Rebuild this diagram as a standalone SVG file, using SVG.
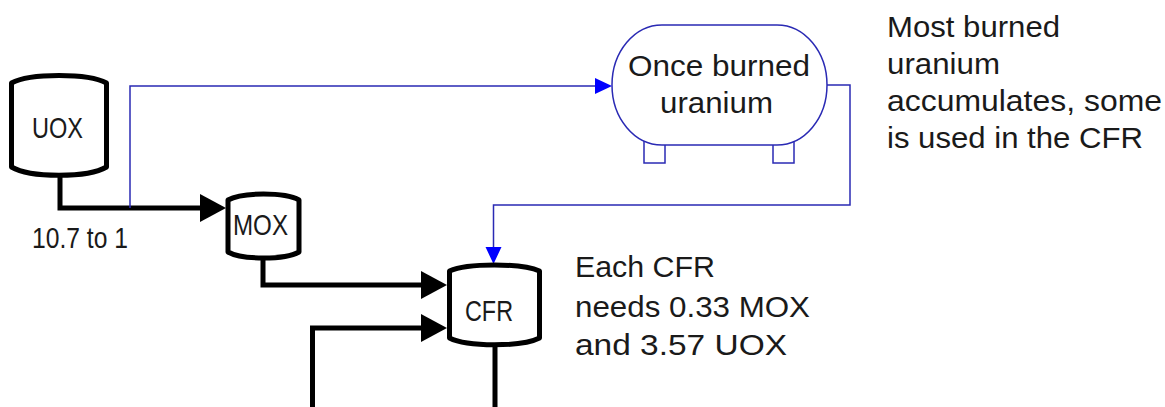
<svg xmlns="http://www.w3.org/2000/svg" width="1165" height="407" viewBox="0 0 1165 407">
<style>
text{font-family:"Liberation Sans",Arial,sans-serif;font-size:29px;fill:#1a1a1a}
.tank{fill:#fff;stroke:#000;stroke-width:5;stroke-linejoin:round}
.flow{fill:none;stroke:#000;stroke-width:5;stroke-linejoin:miter}
.bflow{fill:none;stroke:#2a2ab4;stroke-width:1.5}
.stock{fill:#fff;stroke:#2a2ab4;stroke-width:1.5}
</style>
<defs>
<marker id="ah" markerUnits="userSpaceOnUse" markerWidth="26" markerHeight="28" refX="0" refY="14" orient="auto" overflow="visible">
<path d="M0,0 L26,14 L0,28 Z" fill="#000"/>
</marker>
<marker id="bah" markerUnits="userSpaceOnUse" markerWidth="18" markerHeight="16" refX="0" refY="8" orient="auto" overflow="visible">
<path d="M0,0 L17,8 L0,16 Z" fill="#0000ff"/>
</marker>
</defs>
<rect width="1165" height="407" fill="#fff"/>
<g id="connectors">
<path class="flow" d="M60,176 V208 H200" marker-end="url(#ah)"/>
<path class="flow" d="M263,258 V285 H421" marker-end="url(#ah)"/>
<path class="flow" d="M495,346 V409.5 H312.5 V328 H421" marker-end="url(#ah)"/>
<path class="bflow" d="M130,208 V86 H595" marker-end="url(#bah)"/>
<path class="bflow" d="M827,85 H850 V205 H493.5 V247" marker-end="url(#bah)"/>
</g>
<g id="uox">
<path class="tank" d="M11.5,83 C30,73 88,73 106.5,83 L106.5,167 C88,178 30,178 11.5,167 Z"/>
<text x="32" y="138" textLength="51" lengthAdjust="spacingAndGlyphs">UOX</text>
</g>
<g id="mox">
<path class="tank" d="M228,200 C242,192 285,192 299,200 L299,252 C285,260 242,260 228,252 Z"/>
<text x="233" y="235" textLength="55" lengthAdjust="spacingAndGlyphs">MOX</text>
</g>
<g id="cfr">
<path class="tank" d="M449.5,271 C467,263 522,263 539.5,271 L539.5,338 C522,347 467,347 449.5,338 Z"/>
<text x="465" y="321" textLength="48" lengthAdjust="spacingAndGlyphs">CFR</text>
</g>
<g id="once-burned">
<rect class="stock" x="644" y="140" width="21" height="23"/>
<rect class="stock" x="773" y="140" width="21" height="23"/>
<rect class="stock" x="612" y="25" width="215" height="120" rx="50" ry="60"/>
<text x="628" y="76" textLength="182" lengthAdjust="spacingAndGlyphs">Once burned</text>
<text x="660" y="113" textLength="113" lengthAdjust="spacingAndGlyphs">uranium</text>
</g>
<g id="labels">
<text x="32" y="248" textLength="96" lengthAdjust="spacingAndGlyphs">10.7 to 1</text>
<text x="575" y="277" textLength="140" lengthAdjust="spacingAndGlyphs">Each CFR</text>
<text x="575" y="317" textLength="235" lengthAdjust="spacingAndGlyphs">needs 0.33 MOX</text>
<text x="575" y="355" textLength="212" lengthAdjust="spacingAndGlyphs">and 3.57 UOX</text>
<text x="887" y="37" textLength="173" lengthAdjust="spacingAndGlyphs">Most burned</text>
<text x="887" y="74" textLength="113" lengthAdjust="spacingAndGlyphs">uranium</text>
<text x="887" y="111" textLength="275" lengthAdjust="spacingAndGlyphs">accumulates, some</text>
<text x="887" y="148" textLength="256" lengthAdjust="spacingAndGlyphs">is used in the CFR</text>
</g>
</svg>
